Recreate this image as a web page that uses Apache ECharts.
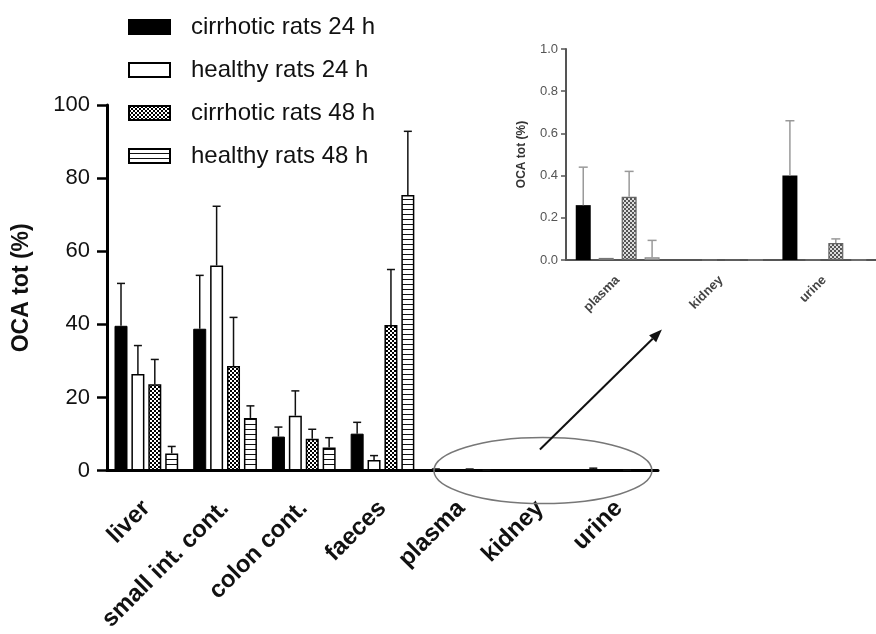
<!DOCTYPE html>
<html>
<head>
<meta charset="utf-8">
<script src="https://cdn.jsdelivr.net/npm/echarts@6/dist/echarts.min.js"></script>
<style>
html,body{margin:0;padding:0;background:#fff;}
#chart{width:876px;height:634px;}
</style>
</head>
<body>
<div id="chart"></div>
<script>
// ---------- data ----------
const categories = ['liver', 'small int. cont.', 'colon cont.', 'faeces', 'plasma', 'kidney', 'urine'];
const seriesNames = ['cirrhotic rats 24 h', 'healthy rats 24 h', 'cirrhotic rats 48 h', 'healthy rats 48 h'];
const cirr24    = [39.6, 38.8, 9.3, 10.1, 0.26, 0, 0.40];
const cirr24Sd  = [11.6, 14.6, 2.6, 3.1, 0.18, 0, 0.26];
const healthy24   = [26.4, 56.1, 15.0, 2.9, 0.01, 0, 0];
const healthy24Sd = [7.8, 16.2, 6.8, 1.2, 0, 0, 0];
const cirr48    = [23.6, 28.6, 8.7, 39.8, 0.30, 0, 0.08];
const cirr48Sd  = [6.8, 13.3, 2.6, 15.2, 0.12, 0, 0.02];
const healthy48   = [4.7, 14.4, 6.3, 75.4, 0.013, 0, 0];
const healthy48Sd = [1.9, 3.3, 2.7, 17.4, 0.08, 0, 0];
const mainYTicks = [0, 20, 40, 60, 80, 100];
const insetYTicks = [0, 0.2, 0.4, 0.6, 0.8, 1.0];
const insetStart = 4; // inset shows plasma, kidney, urine

// ---------- patterns ----------
function checker(dark, light, cell) {
  const c = document.createElement('canvas');
  c.width = c.height = cell * 2;
  const g = c.getContext('2d');
  g.fillStyle = light; g.fillRect(0, 0, cell * 2, cell * 2);
  g.fillStyle = dark; g.fillRect(0, 0, cell, cell); g.fillRect(cell, cell, cell, cell);
  return { image: c, repeat: 'repeat' };
}
function hstripes(line, bg, period) {
  const c = document.createElement('canvas');
  c.width = 4; c.height = period;
  const g = c.getContext('2d');
  g.fillStyle = bg; g.fillRect(0, 0, 4, period);
  g.fillStyle = line; g.fillRect(0, period - 1, 4, 1);
  return { image: c, repeat: 'repeat' };
}

const FONT = '"Liberation Sans", Arial, sans-serif';
const values = [cirr24, healthy24, cirr48, healthy48];
const sds = [cirr24Sd, healthy24Sd, cirr48Sd, healthy48Sd];

const mainStyles = [
  { color: '#000', borderColor: '#000', borderWidth: 1 },
  { color: '#fff', borderColor: '#000', borderWidth: 1.5 },
  { color: checker('#000', '#fff', 2), borderColor: '#000', borderWidth: 1.5 },
  { color: hstripes('#111', '#fff', 5), borderColor: '#000', borderWidth: 1.5 }
];
const insetStyles = [
  { color: '#000', borderWidth: 0 },
  { color: '#fff', borderColor: '#777', borderWidth: 1.2 },
  { color: checker('#555', '#ddd', 2), borderColor: '#666', borderWidth: 1.2 },
  { color: '#fff', borderColor: '#888', borderWidth: 1.2 }
];

const MAIN_BW = 13, MAIN_GAP = 0.30;
const INSET_BW = 15, INSET_GAP = 0.53;

function errRenderer(idx, bw, gap, color, lw, cap) {
  const step = bw * (1 + gap);
  return function (params, api) {
    const cat = api.value(0), v = api.value(1), sd = api.value(2);
    if (!sd) return;
    const b = api.coord([cat, v]);
    const t = api.coord([cat, v + sd]);
    const x = b[0] + (idx - 1.5) * step;
    return {
      type: 'group',
      children: [
        { type: 'line', shape: { x1: x, y1: b[1], x2: x, y2: t[1] }, style: { stroke: color, lineWidth: lw } },
        { type: 'line', shape: { x1: x - cap, y1: t[1], x2: x + cap, y2: t[1] }, style: { stroke: color, lineWidth: lw } }
      ]
    };
  };
}

const series = [];
// main bars
values.forEach((arr, i) => {
  series.push({
    name: seriesNames[i], type: 'bar', xAxisIndex: 0, yAxisIndex: 0,
    data: arr, barWidth: MAIN_BW, barGap: (MAIN_GAP * 100) + '%',
    itemStyle: mainStyles[i], z: 2, silent: true
  });
});
values.forEach((arr, i) => {
  series.push({
    type: 'custom', xAxisIndex: 0, yAxisIndex: 0, z: 3, silent: true,
    renderItem: errRenderer(i, MAIN_BW, MAIN_GAP, '#111', 1.5, 4),
    data: arr.map((v, k) => [k, v, sds[i][k]]), encode: { x: 0, y: 1 }
  });
});
// inset bars
values.forEach((arr, i) => {
  series.push({
    name: seriesNames[i], type: 'bar', xAxisIndex: 1, yAxisIndex: 1,
    data: arr.slice(insetStart), barWidth: INSET_BW, barGap: (INSET_GAP * 100) + '%',
    itemStyle: insetStyles[i], z: 2, silent: true
  });
});
values.forEach((arr, i) => {
  series.push({
    type: 'custom', xAxisIndex: 1, yAxisIndex: 1, z: 3, silent: true,
    renderItem: errRenderer(i, INSET_BW, INSET_GAP, '#999', 1.5, 4.5),
    data: arr.slice(insetStart).map((v, k) => [k, v, sds[i].slice(insetStart)[k]]), encode: { x: 0, y: 1 }
  });
});

const chart = echarts.init(document.getElementById('chart'), null, { renderer: 'canvas' });
chart.setOption({
  animation: false,
  backgroundColor: '#fff',
  legend: {
    data: seriesNames, orient: 'vertical', left: 123, top: 8,
    itemWidth: 41, itemHeight: 14, itemGap: 15, icon: 'rect',
    textStyle: { fontFamily: FONT, fontSize: 24, color: '#111', lineHeight: 28, padding: [0, 0, 0, 16] },
    selectedMode: false
  },
  grid: [
    { left: 107, top: 105, width: 551, height: 370 },
    { left: 566, top: 49, width: 320, height: 211 }
  ],
  xAxis: [
    {
      gridIndex: 0, type: 'category', data: categories,
      axisLine: { lineStyle: { color: '#000', width: 3 } },
      axisTick: { alignWithLabel: true, length: 10, lineStyle: { color: '#000', width: 2.5 } },
      axisLabel: { rotate: 45, margin: 34, fontFamily: FONT, fontSize: 24, fontWeight: 'bold', color: '#111', interval: 0 }
    },
    {
      gridIndex: 1, type: 'category', data: categories.slice(insetStart),
      axisLine: { lineStyle: { color: '#555', width: 2 } },
      axisTick: { alignWithLabel: true, length: 4, lineStyle: { color: '#555', width: 2 } },
      axisLabel: { rotate: 45, margin: 18, fontFamily: FONT, fontSize: 13, fontWeight: 'bold', color: '#444', interval: 0 }
    }
  ],
  yAxis: [
    {
      gridIndex: 0, type: 'value', min: mainYTicks[0], max: mainYTicks[mainYTicks.length - 1],
      interval: mainYTicks[1] - mainYTicks[0],
      name: 'OCA tot (%)', nameLocation: 'middle', nameGap: 74,
      nameTextStyle: { fontFamily: FONT, fontSize: 23, fontWeight: 'bold', color: '#111' },
      axisLine: { show: true, lineStyle: { color: '#000', width: 3 } },
      axisTick: { show: true, length: 10, lineStyle: { color: '#000', width: 2.5 } },
      axisLabel: { margin: 17, fontFamily: FONT, fontSize: 22, color: '#111' },
      splitLine: { show: false }
    },
    {
      gridIndex: 1, type: 'value', min: insetYTicks[0], max: insetYTicks[insetYTicks.length - 1],
      interval: insetYTicks[1] - insetYTicks[0],
      name: 'OCA tot (%)', nameLocation: 'middle', nameGap: 38,
      nameTextStyle: { fontFamily: FONT, fontSize: 12, fontWeight: 'bold', color: '#333' },
      axisLine: { show: true, lineStyle: { color: '#555', width: 2 } },
      axisTick: { show: true, length: 5, lineStyle: { color: '#555', width: 1.5 } },
      axisLabel: { margin: 8, fontFamily: FONT, fontSize: 13, color: '#555', formatter: v => v.toFixed(1) },
      splitLine: { show: false }
    }
  ],
  series: series
});

// annotation: ellipse around the small-value categories and arrow to the inset
const kid = chart.convertToPixel({ xAxisIndex: 0, yAxisIndex: 0 }, ['kidney', 0]);
const ax0 = kid[0], ay0 = kid[1] - 21;
const ax1 = ax0 + 122, ay1 = ay0 - 120;
const len = Math.hypot(ax1 - ax0, ay1 - ay0);
const ux = (ax1 - ax0) / len, uy = (ay1 - ay0) / len;
const hl = 13, hw = 5;
chart.setOption({
  graphic: [
    { type: 'ellipse', shape: { cx: kid[0] + 3, cy: kid[1], rx: 109, ry: 33 },
      style: { fill: 'none', stroke: '#777', lineWidth: 1.5 }, z: 10, silent: true },
    { type: 'line', shape: { x1: ax0, y1: ay0, x2: ax1 - ux * hl, y2: ay1 - uy * hl },
      style: { stroke: '#111', lineWidth: 2 }, z: 10, silent: true },
    { type: 'polygon', shape: { points: [
        [ax1, ay1],
        [ax1 - ux * hl - uy * hw, ay1 - uy * hl + ux * hw],
        [ax1 - ux * hl + uy * hw, ay1 - uy * hl - ux * hw]
      ] }, style: { fill: '#111' }, z: 10, silent: true }
  ]
});
</script>
</body>
</html>
